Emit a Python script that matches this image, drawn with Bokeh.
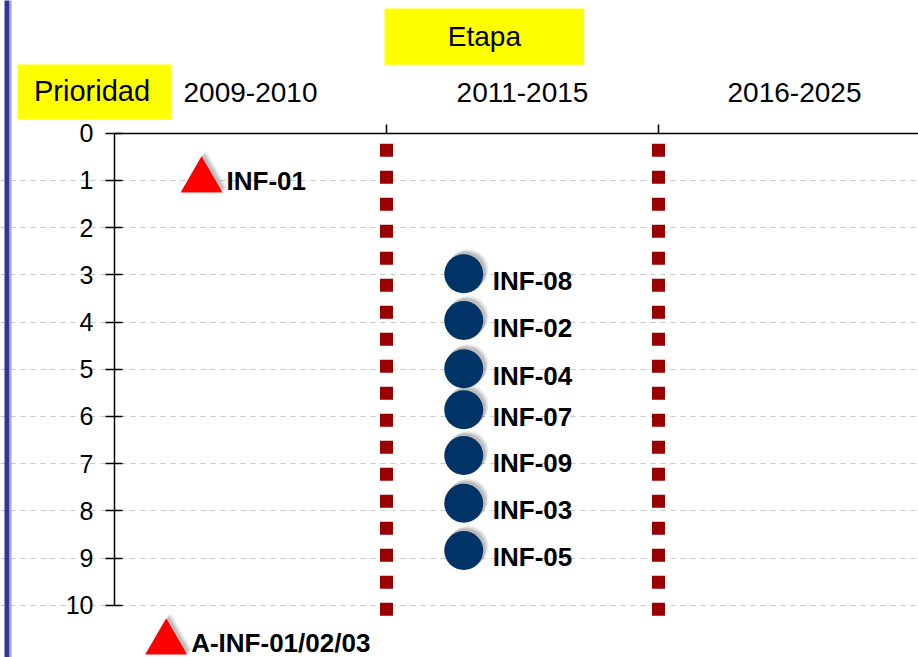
from bokeh.plotting import figure
from bokeh.models import Range1d, LinearAxis, FixedTicker, Label, BoxAnnotation, Grid, ColumnDataSource
from bokeh.core.properties import value
from bokeh.embed import file_html
from bokeh.resources import INLINE

# ---------------- data ----------------
periods = ["2009-2010", "2011-2015", "2016-2025"]
period_centers = [0.5, 1.5, 2.5]
stage_bounds = [1, 2]
priority_ticks = [0, 1, 2, 3, 4, 5, 6, 7, 8, 9, 10]

tri_names = ["INF-01", "A-INF-01/02/03"]
tri_x = [0.32, 0.19]
tri_y = [1.0, 10.79]

circ_names = ["INF-08", "INF-02", "INF-04", "INF-07", "INF-09", "INF-03", "INF-05"]
circ_x = [1.284, 1.284, 1.284, 1.284, 1.284, 1.284, 1.284]
circ_y = [2.98, 3.97, 4.99, 5.86, 6.83, 7.84, 8.84]

# ---------------- layout constants (canvas pixels) ----------------
W, H = 918, 657
X0_PX, Y0_PX = 114.0, 132.7   # where stage 0 / priority 0 sit
PX_X = 272.0                  # pixels per stage unit
PX_Y = 47.2                   # pixels per priority unit


def fx(px):
    return (px - X0_PX) / PX_X


def fy(py):
    return (py - Y0_PX) / PX_Y


FONT = "Liberation Sans"

p = figure(width=W, height=H, x_range=Range1d(fx(0), fx(W)), y_range=Range1d(fy(H), fy(0)),
           output_backend="svg", toolbar_location=None,
           x_axis_location=None, y_axis_location=None,
           min_border_left=0, min_border_top=0, min_border_right=0, min_border_bottom=0,
           outline_line_color=None, background_fill_color="white", border_fill_color="white")
p.xgrid.visible = False
p.ygrid.visible = False

# grid
grid = Grid(dimension=1, ticker=FixedTicker(ticks=priority_ticks[1:]), bounds=(0, fx(W)),
            grid_line_color="#c8c8c8", grid_line_dash="5 5", grid_line_width=1.2)
p.add_layout(grid)

# axes fixed at the data origin
yaxis = LinearAxis(ticker=FixedTicker(ticks=priority_ticks), bounds=(0, 10), fixed_location=0,
                   major_tick_in=8, major_tick_out=9, minor_tick_line_color=None,
                   axis_line_color="black", axis_line_width=1.5,
                   major_tick_line_color="black", major_tick_line_width=1.5,
                   major_label_text_font=FONT, major_label_text_font_size="25px",
                   major_label_text_color="black", major_label_standoff=12)
p.add_layout(yaxis, "left")

xaxis = LinearAxis(ticker=FixedTicker(ticks=stage_bounds), fixed_location=0, bounds=(0, fx(W)),
                   major_tick_in=0, major_tick_out=9, minor_tick_line_color=None,
                   axis_line_color="black", axis_line_width=1.5,
                   major_tick_line_color="black", major_tick_line_width=1.5,
                   major_label_text_color=None)
p.add_layout(xaxis, "above")

# stage separators (dotted dark red)
p.segment(x0=stage_bounds, y0=[fy(143.3)] * len(stage_bounds),
          x1=stage_bounds, y1=[fy(620)] * len(stage_bounds),
          line_color="#990000", line_width=13, line_dash="13 14", line_cap="butt")

# soft shadows (upper right)
for k, a in ((5, 0.08), (4, 0.12), (3, 0.16), (2, 0.2)):
    sdx, sdy = k / PX_X, -k / PX_Y
    p.scatter([x + sdx for x in circ_x], [y + sdy for y in circ_y], size=40, marker="circle",
              fill_color="#707070", fill_alpha=a, line_color=None)
    p.scatter([x + sdx for x in tri_x], [y + sdy for y in tri_y], size=43, marker="triangle",
              fill_color="#707070", fill_alpha=a, line_color=None)

# markers
csrc = ColumnDataSource(dict(x=circ_x, y=circ_y, name=circ_names))
tsrc = ColumnDataSource(dict(x=tri_x, y=tri_y, name=tri_names))
p.scatter("x", "y", source=csrc, size=39, marker="circle", fill_color="#003366", line_color=None)
p.scatter("x", "y", source=tsrc, size=42, marker="triangle", fill_color="#ff0000", line_color=None)

p.text("x", "y", text="name", source=csrc, x_offset=29, y_offset=7,
       text_font=value(FONT), text_font_style="bold", text_font_size="26px",
       text_align="left", text_baseline="middle", text_color="black")
p.text("x", "y", text="name", source=tsrc, x_offset=25, y_offset=1,
       text_font=value(FONT), text_font_style="bold", text_font_size="26px",
       text_align="left", text_baseline="middle", text_color="black")

# period labels
for c, t in zip(period_centers, periods):
    p.add_layout(Label(x=c, y=fy(91.7), text=t, text_align="center", text_baseline="middle",
                       text_font=FONT, text_font_size="28px", text_color="black"))

# yellow header boxes
p.add_layout(BoxAnnotation(left=fx(384), right=fx(583.7), top=fy(8), bottom=fy(64.3),
                           fill_color="#ffff00", fill_alpha=1, line_color=None))
p.add_layout(Label(x=fx(483.9), y=fy(35.8), text="Etapa", text_align="center", text_baseline="middle",
                   text_font=FONT, text_font_size="28px", text_color="black"))
p.add_layout(BoxAnnotation(left=fx(17), right=fx(171), top=fy(64), bottom=fy(119),
                           fill_color="#ffff00", fill_alpha=1, line_color=None))
p.add_layout(Label(x=fx(91.5), y=fy(90.5), text="Prioridad", text_align="center", text_baseline="middle",
                   text_font=FONT, text_font_size="29px", text_color="black"))

# left blue border bar
p.add_layout(BoxAnnotation(left=fx(4), right=fx(9), top=fy(-5), bottom=fy(H + 5),
                           fill_color="#333399", fill_alpha=1, line_color=None))
p.add_layout(BoxAnnotation(left=fx(9), right=fx(11), top=fy(-5), bottom=fy(H + 5),
                           fill_color="#a0a0d0", fill_alpha=1, line_color=None))

open("out.html", "w").write(file_html(p, INLINE))
